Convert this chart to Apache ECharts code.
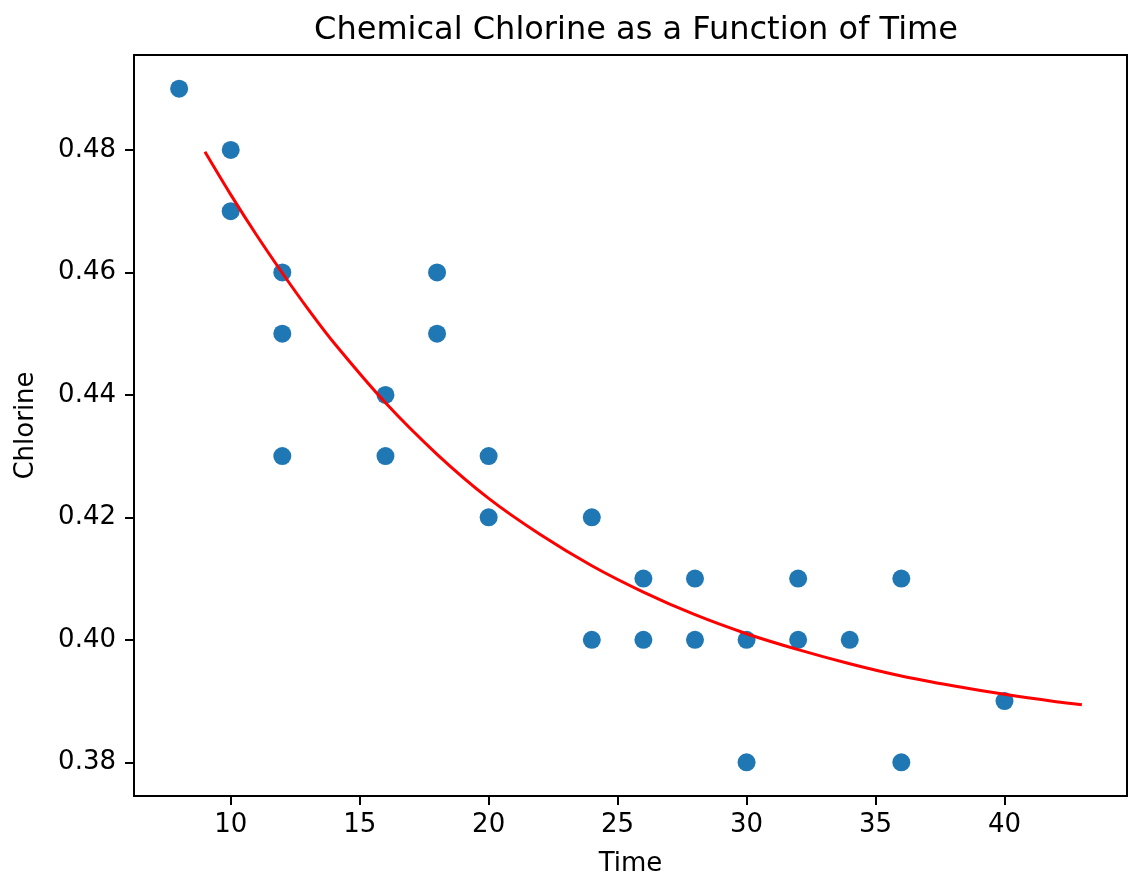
<!DOCTYPE html>
<html>
<head>
<meta charset="utf-8">
<script src="https://cdn.jsdelivr.net/npm/echarts@6/dist/echarts.min.js"></script>
<style>
html,body{margin:0;padding:0;background:#fff;}
#chart{width:1129px;height:878px;}
</style>
</head>
<body>
<div id="chart"></div>
<script>
// Scatter observations
const times    = [8, 10, 10, 12, 12, 12, 16, 16, 18, 18, 20, 20, 24, 24, 26, 26, 28, 28, 30, 30, 32, 32, 34, 36, 36, 40];
const chlorine = [0.49, 0.48, 0.47, 0.46, 0.45, 0.43, 0.44, 0.43, 0.46, 0.45, 0.43, 0.42, 0.42, 0.40, 0.41, 0.40, 0.41, 0.40, 0.40, 0.38, 0.41, 0.40, 0.40, 0.41, 0.38, 0.39];

// Fitted curve
const fitTime = [9, 10, 11, 12, 13, 14, 16, 18, 20, 22, 24, 26, 28, 30, 32, 34, 36, 38, 40, 42, 43];
const fitChlorine = [0.4797, 0.4727, 0.4661, 0.4599, 0.4540, 0.4485, 0.4387, 0.4303, 0.4231, 0.4172, 0.4121, 0.4078, 0.4041, 0.4010, 0.3984, 0.3961, 0.3941, 0.3925, 0.3911, 0.3899, 0.3894];

// Tick labels
const xTicks = [10, 15, 20, 25, 30, 35, 40];
const yTicks = [0.38, 0.40, 0.42, 0.44, 0.46, 0.48];

const titleText = 'Chemical Chlorine as a Function of Time';
const xName = 'Time';
const yName = 'Chlorine';

const FONT = 'DejaVu Sans';
const chart = echarts.init(document.getElementById('chart'), null, {renderer: 'canvas'});

const scatterData = times.map((t, i) => [t, chlorine[i]]);
const fitData = fitTime.map((t, i) => [t, fitChlorine[i]]);

chart.setOption({
  backgroundColor: '#ffffff',
  animation: false,
  title: {
    text: titleText,
    left: 631,
    textAlign: 'center',
    top: 10,
    textStyle: {fontFamily: FONT, fontSize: 32, fontWeight: 'normal', color: '#000'}
  },
  grid: {
    left: 134, top: 55, right: 2, bottom: 82,
    show: true, borderColor: '#000', borderWidth: 2,
    outerBoundsMode: 'none', containLabel: false
  },
  xAxis: {
    type: 'value',
    min: 6.25, max: 44.75,
    name: xName, nameLocation: 'middle', nameGap: 55,
    nameTextStyle: {fontFamily: FONT, fontSize: 26, color: '#000'},
    axisLine: {show: true, onZero: false, lineStyle: {color: '#000', width: 2}},
    axisTick: {show: true, inside: false, length: 9, customValues: xTicks, lineStyle: {color: '#000', width: 2}},
    axisLabel: {show: true, margin: 16, customValues: xTicks, fontFamily: FONT, fontSize: 26, color: '#000',
      formatter: v => String(v)},
    splitLine: {show: false}
  },
  yAxis: {
    type: 'value',
    min: 0.3745, max: 0.4955,
    name: yName, nameLocation: 'middle', nameGap: 95, nameRotate: 90,
    nameTextStyle: {fontFamily: FONT, fontSize: 26, color: '#000'},
    axisLine: {show: true, onZero: false, lineStyle: {color: '#000', width: 2}},
    axisTick: {show: true, inside: false, length: 9, customValues: yTicks, lineStyle: {color: '#000', width: 2}},
    axisLabel: {show: true, margin: 18, customValues: yTicks, fontFamily: FONT, fontSize: 26, color: '#000',
      formatter: v => v.toFixed(2)},
    splitLine: {show: false}
  },
  series: [
    {
      type: 'scatter',
      data: scatterData,
      symbol: 'circle',
      symbolSize: 18,
      itemStyle: {color: '#1f77b4', opacity: 1},
      z: 2
    },
    {
      type: 'line',
      data: fitData,
      smooth: 0.3,
      showSymbol: false,
      symbol: 'none',
      lineStyle: {color: '#ff0000', width: 3},
      z: 3
    }
  ]
});
</script>
</body>
</html>
